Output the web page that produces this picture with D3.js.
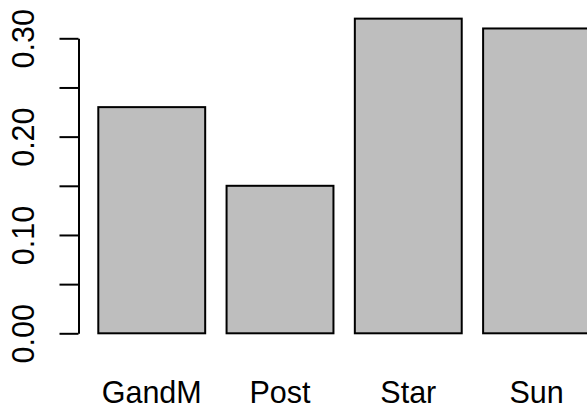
<!DOCTYPE html>
<html>
<head>
<meta charset="utf-8">
<script src="https://cdn.jsdelivr.net/npm/d3@7"></script>
<style>
  html, body { margin: 0; padding: 0; background: #fff; }
  svg { display: block; }
</style>
</head>
<body>
<svg id="chart" width="587" height="411"></svg>
<script>
const categories = ["GandM", "Post", "Star", "Sun"];
const values = [0.23, 0.15, 0.32, 0.31];
const yTicks = [0, 0.05, 0.10, 0.15, 0.20, 0.25, 0.30];
const yLabels = [0, 0.10, 0.20, 0.30];

const svg = d3.select("#chart");
const FONT = "'Liberation Sans', Arial, Helvetica, sans-serif";
const fontSize = 30.5;

const y = d3.scaleLinear().domain([0, 0.30]).range([333.3, 38.3]);
const x = d3.scaleBand()
  .domain(categories)
  .range([98.3, 590])
  .paddingInner(1 / 6)
  .paddingOuter(0);

// bars
svg.append("g").selectAll("rect")
  .data(categories)
  .join("rect")
  .attr("x", d => x(d))
  .attr("y", (d, i) => y(values[i]))
  .attr("width", x.bandwidth())
  .attr("height", (d, i) => y(0) - y(values[i]))
  .attr("fill", "#BEBEBE")
  .attr("stroke", "#000")
  .attr("stroke-width", 2);

// y axis
const yAxis = d3.axisLeft(y)
  .tickValues(yTicks)
  .tickSize(19)
  .tickSizeOuter(0)
  .tickFormat(d => yLabels.some(v => Math.abs(v - d) < 1e-9) ? d3.format(".2f")(d) : "");

const gy = svg.append("g").attr("transform", "translate(78.5,0)").call(yAxis);
gy.select(".domain").attr("stroke", "#000").attr("stroke-width", 2);
gy.selectAll(".tick line").attr("stroke", "#000").attr("stroke-width", 2);
gy.selectAll(".tick text")
  .attr("transform", "rotate(-90)")
  .attr("x", 0)
  .attr("y", -45)
  .attr("dy", 0)
  .attr("text-anchor", "middle")
  .attr("fill", "#000")
  .style("font-family", FONT)
  .style("font-size", fontSize + "px");

// x labels
svg.append("g").selectAll("text")
  .data(categories)
  .join("text")
  .attr("x", d => x(d) + x.bandwidth() / 2)
  .attr("y", 403)
  .attr("text-anchor", "middle")
  .attr("fill", "#000")
  .style("font-family", FONT)
  .style("font-size", fontSize + "px")
  .text(d => d);
</script>
</body>
</html>
